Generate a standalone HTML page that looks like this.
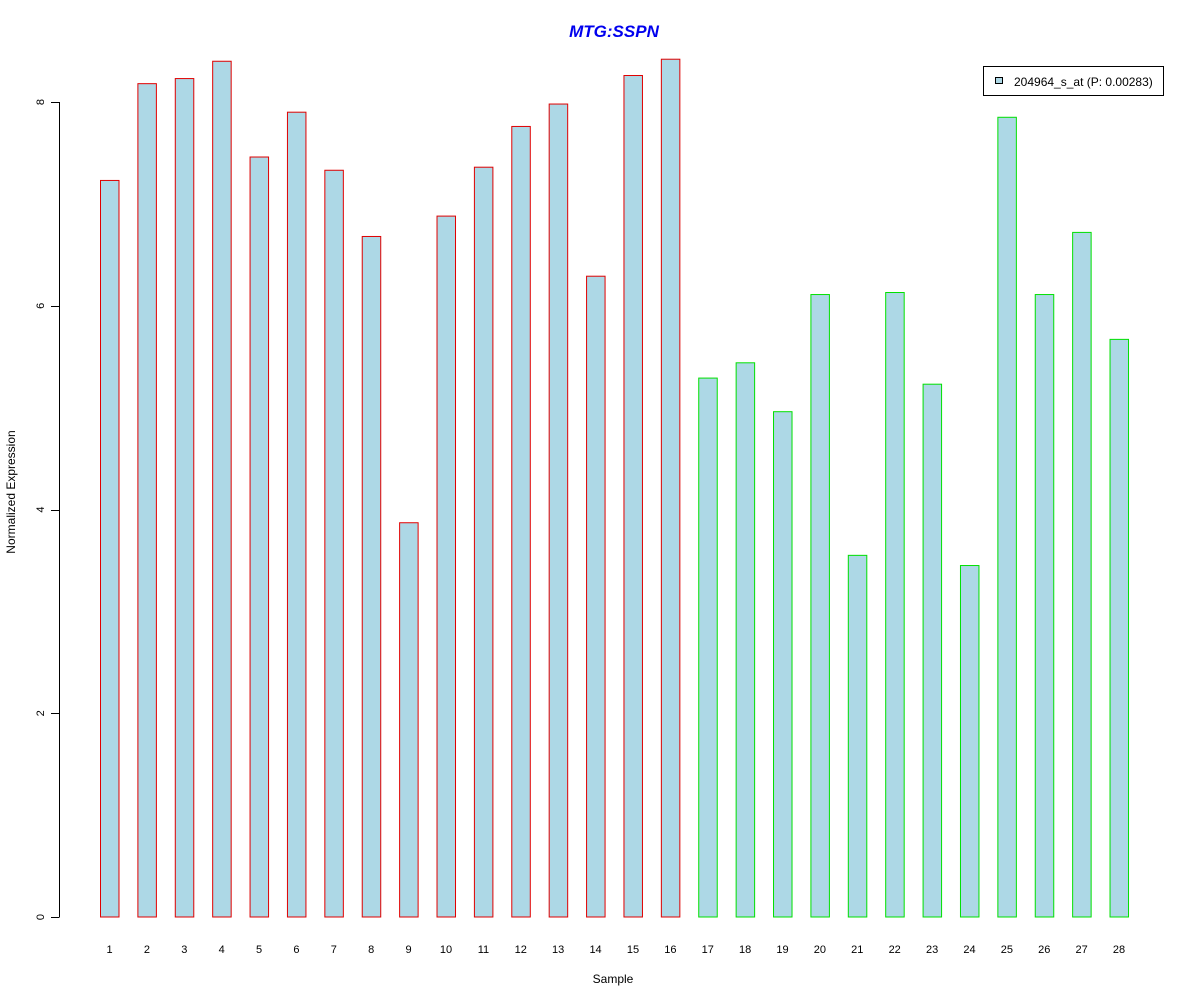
<!DOCTYPE html>
<html><head><meta charset="utf-8"><style>
body{margin:0;background:#fff}
svg{display:block;font-family:"Liberation Sans",Arial,sans-serif}
</style></head><body>
<svg id="chart" width="1200" height="1000">
<text x="614" y="37" text-anchor="middle" font-size="17" font-weight="bold" font-style="italic" fill="#0000ee">MTG:SSPN</text>
<text x="613" y="983" text-anchor="middle" font-size="12">Sample</text>
<text transform="translate(15,492) rotate(-90)" text-anchor="middle" font-size="12">Normalized Expression</text>
<g id="yaxis"></g>
<g id="bars"></g>
<g id="xlabels"></g>
<g>
<rect x="983.5" y="66.5" width="180" height="29" fill="#fff" stroke="#000"/>
<rect x="995.5" y="77.5" width="7" height="6" fill="#add8e6" stroke="#000"/>
<text x="1014" y="86" font-size="12">204964_s_at (P: 0.00283)</text>
</g>
</svg>
<script>
const categories=["1","2","3","4","5","6","7","8","9","10","11","12","13","14","15","16","17","18","19","20","21","22","23","24","25","26","27","28"];
const values=[7.23,8.18,8.23,8.40,7.46,7.90,7.33,6.68,3.87,6.88,7.36,7.76,7.98,6.29,8.26,8.42,5.29,5.44,4.96,6.11,3.55,6.13,5.23,3.45,7.85,6.11,6.72,5.67];
const groups=["a","a","a","a","a","a","a","a","a","a","a","a","a","a","a","a","b","b","b","b","b","b","b","b","b","b","b","b"];
const yTicks=[0,2,4,6,8];
const NS="http://www.w3.org/2000/svg";
const y=v=>917-v*101.875;
const xc=i=>109.5+i*37.39;
const bars=document.getElementById('bars'),xl=document.getElementById('xlabels'),ya=document.getElementById('yaxis');
function mk(t,a,p){const e=document.createElementNS(NS,t);for(const k in a)e.setAttribute(k,a[k]);p.appendChild(e);return e;}
values.forEach((v,i)=>{
 const r=mk('rect',{x:xc(i)-9,y:y(v),width:18.5,height:917-y(v),fill:'#add8e6',stroke:groups[i]==='a'?'#e00000':'#00e000','stroke-width':1},bars);
 
 
 const t=mk('text',{x:xc(i),y:953,'text-anchor':'middle','font-size':11},xl);
 t.textContent=categories[i];
 
 
});
mk('line',{x1:59.5,x2:59.5,y1:y(8),y2:y(0),stroke:'#000'},ya);
yTicks.forEach(v=>{
 mk('line',{x1:51,x2:59.5,y1:Math.round(y(v))+0.5,y2:Math.round(y(v))+0.5,stroke:'#000'},ya);
 const t=mk('text',{transform:`translate(44,${y(v)}) rotate(-90)`,'text-anchor':'middle','font-size':11},ya);
 t.textContent=v;
 
 
});
</script>
</body></html>
